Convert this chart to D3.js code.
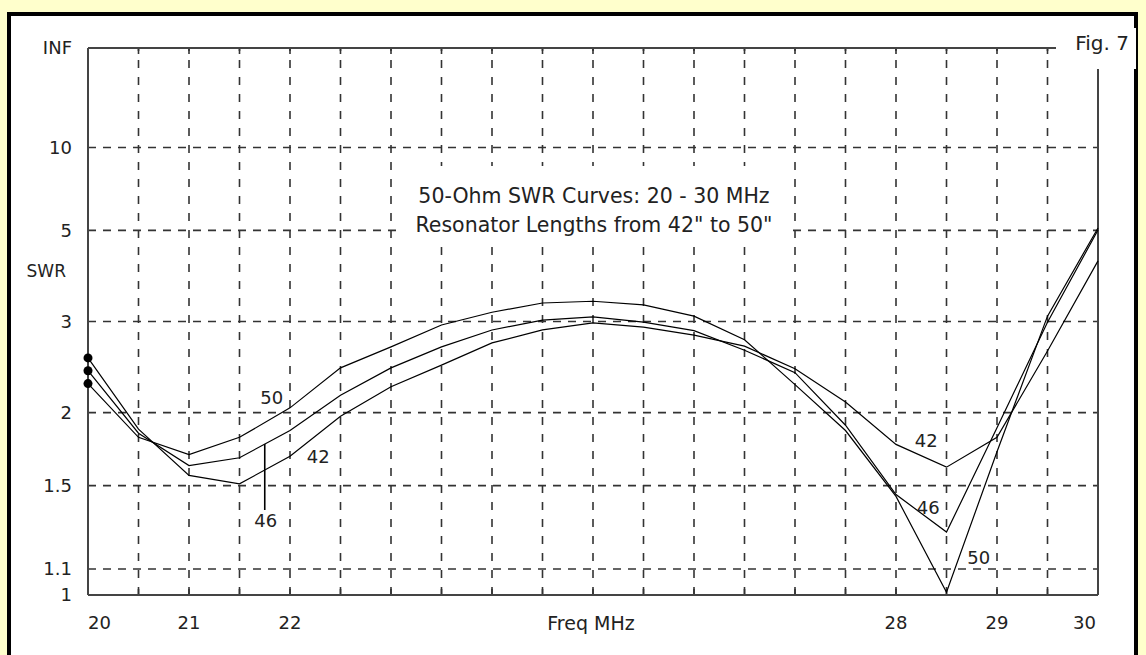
<!DOCTYPE html>
<html>
<head>
<meta charset="utf-8">
<script src="https://cdnjs.cloudflare.com/ajax/libs/d3/7.8.5/d3.min.js"></script>
<style>
body { margin: 0; background: #ffffcc; }
svg { display: block; }
text { font-family: "DejaVu Sans", sans-serif; fill: #222; }
</style>
</head>
<body>
<div id="chart-area"></div>
<script>
// frequency steps (MHz) and SWR
var freqs = [20, 20.5, 21, 21.5, 22, 22.5, 23, 23.5, 24, 24.5, 25,
             25.5, 26, 26.5, 27, 27.5, 28, 28.5, 29, 29.5, 30];
var swr42 = [2.53, 1.87, 1.56, 1.51, 1.68, 1.97, 2.23, 2.45, 2.71, 2.88, 2.98,
             2.92, 2.81, 2.67, 2.41, 2.09, 1.76, 1.61, 1.81, 2.61, 4.14];
var swr46 = [2.39, 1.84, 1.62, 1.67, 1.86, 2.15, 2.42, 2.66, 2.88, 3.02, 3.07,
             2.99, 2.87, 2.62, 2.37, 1.90, 1.45, 1.26, 1.88, 2.99, 5.01];
var swr50 = [2.26, 1.81, 1.69, 1.81, 2.04, 2.42, 2.66, 2.95, 3.14, 3.29, 3.32,
             3.26, 3.08, 2.75, 2.25, 1.86, 1.44, 1.01, 1.71, 3.08, 5.08];

var yTickValues = [1, 1.1, 1.5, 2, 3, 5, 10, Infinity];
var yTickLabels = ["1", "1.1", "1.5", "2", "3", "5", "10", "INF"];
var xTickLabels = [20, 21, 22, 28, 29, 30];

var titleLines = ["50-Ohm SWR Curves: 20 - 30 MHz", "Resonator Lengths from 42\" to 50\""];

// curve labels, in freq / swr units
var curveLabels = [
    {text: "50", f: 21.82, s: 2.13},
    {text: "42", f: 22.28, s: 1.675},
    {text: "46", f: 21.76, s: 1.313},
    {text: "42", f: 28.30, s: 1.79},
    {text: "46", f: 28.32, s: 1.383},
    {text: "50", f: 28.82, s: 1.149}
];
var leader = {f: 21.75, s1: 1.763, s2: 1.368};

var margin = {left: 88, right: 48, top: 48, bottom: 60},
    width = 1010,
    height = 547;

var svg = d3.select("#chart-area").append("svg")
    .attr("width", 1146)
    .attr("height", 655);

svg.append("rect")
    .attr("width", 1146).attr("height", 655)
    .attr("fill", "#ffffcc");

// white panel with thick black frame (bottom edge runs off the picture)
svg.append("rect")
    .attr("x", 9).attr("y", 14)
    .attr("width", 1127).attr("height", 700)
    .attr("fill", "#fff")
    .attr("stroke", "#000")
    .attr("stroke-width", 4);

var g = svg.append("g")
    .attr("transform", "translate(" + margin.left + "," + margin.top + ")");

// scales: SWR is drawn linear in reflection coefficient
var x = d3.scaleLinear().domain([20, 30]).range([0, width]);
var r = d3.scaleLinear().domain([0, 1]).range([height, 0]);
function rho(s) { return s === Infinity ? 1 : (s - 1) / (s + 1); }
function y(s) { return r(rho(s)); }

// grid
var inner = freqs.filter(function (f) { return f > 20 && f < 30; });
g.selectAll("line.vgrid").data(inner).enter().append("line")
    .attr("class", "vgrid")
    .attr("x1", function (d) { return x(d); })
    .attr("x2", function (d) { return x(d); })
    .attr("y1", height).attr("y2", 0)
    .attr("stroke", "#333")
    .attr("stroke-width", 1.6)
    .attr("stroke-dasharray", "8,9");

var hg = yTickValues.filter(function (s) { return s > 1 && s < Infinity; });
g.selectAll("line.hgrid").data(hg).enter().append("line")
    .attr("class", "hgrid")
    .attr("x1", 0).attr("x2", width)
    .attr("y1", function (d) { return y(d); })
    .attr("y2", function (d) { return y(d); })
    .attr("stroke", "#333")
    .attr("stroke-width", 1.6)
    .attr("stroke-dasharray", "8,7");

// small ticks on top and bottom edges
inner.forEach(function (f) {
    g.append("line").attr("x1", x(f)).attr("x2", x(f)).attr("y1", height).attr("y2", height - 6)
        .attr("stroke", "#333").attr("stroke-width", 1.6);
    g.append("line").attr("x1", x(f)).attr("x2", x(f)).attr("y1", 0).attr("y2", 6)
        .attr("stroke", "#333").attr("stroke-width", 1.6);
});

// frame
var frame = g.append("g").attr("stroke", "#444").attr("stroke-width", 2);
frame.append("line").attr("x1", 0).attr("x2", 0).attr("y1", 0).attr("y2", height);
frame.append("line").attr("x1", 0).attr("x2", width).attr("y1", height).attr("y2", height);
frame.append("line").attr("x1", 0).attr("x2", width).attr("y1", 0).attr("y2", 0);
frame.append("line").attr("x1", width).attr("x2", width).attr("y1", 0).attr("y2", height);

// box behind the title
var titleG = g.append("g");
var titleBg = titleG.append("rect").attr("fill", "#fff");
var titleText = titleG.append("text")
    .attr("text-anchor", "middle")
    .style("font-size", "20.5px");
titleLines.forEach(function (t, i) {
    titleText.append("tspan")
        .attr("x", x(25) + 1)
        .attr("y", 155 + i * 29)
        .text(t);
});
var tb = titleText.node().getBBox();
titleBg.attr("x", tb.x - 18).attr("y", tb.y - 18)
    .attr("width", tb.width + 34).attr("height", tb.height + 24);

// Fig. 7 box over the top right corner
g.append("rect")
    .attr("x", width - 42).attr("y", -20)
    .attr("width", 80).attr("height", 41)
    .attr("fill", "#fff");
g.append("text")
    .attr("x", width + 4).attr("y", 2)
    .attr("text-anchor", "middle")
    .style("font-size", "20px")
    .text("Fig. 7");

// y axis labels
g.selectAll("text.ylab").data(yTickValues).enter().append("text")
    .attr("class", "ylab")
    .attr("x", -16)
    .attr("y", function (d) { return y(d); })
    .attr("dy", "0.36em")
    .attr("text-anchor", "end")
    .style("font-size", "18px")
    .text(function (d, i) { return yTickLabels[i]; });

g.append("text")
    .attr("x", -22).attr("y", y(3.9))
    .attr("dy", "0.36em")
    .attr("text-anchor", "end")
    .style("font-size", "17px")
    .text("SWR");

// x axis labels
g.selectAll("text.xlab").data(xTickLabels).enter().append("text")
    .attr("class", "xlab")
    .attr("x", function (d) { return d === 30 ? x(d) - 2 : x(d); })
    .attr("y", height + 28)
    .attr("dy", "0.36em")
    .attr("text-anchor", function (d) { return d === 20 ? "start" : d === 30 ? "end" : "middle"; })
    .style("font-size", "18px")
    .text(function (d) { return d; });

g.append("text")
    .attr("x", x(25) - 2).attr("y", height + 28)
    .attr("dy", "0.36em")
    .attr("text-anchor", "middle")
    .style("font-size", "19px")
    .text("Freq MHz");

// curves
var lineGen = d3.line()
    .x(function (d, i) { return x(freqs[i]); })
    .y(function (d) { return y(d); });

[swr42, swr46, swr50].forEach(function (series) {
    g.append("path")
        .attr("d", lineGen(series))
        .attr("fill", "none")
        .attr("stroke", "#000")
        .attr("stroke-width", 1.2);
    g.append("circle")
        .attr("cx", x(freqs[0]))
        .attr("cy", y(series[0]))
        .attr("r", 4.5)
        .attr("fill", "#000");
});

// labels
g.selectAll("text.clab").data(curveLabels).enter().append("text")
    .attr("class", "clab")
    .attr("x", function (d) { return x(d.f); })
    .attr("y", function (d) { return y(d.s); })
    .attr("dy", "0.36em")
    .attr("text-anchor", "middle")
    .style("font-size", "18px")
    .text(function (d) { return d.text; });

g.append("line")
    .attr("x1", x(leader.f)).attr("x2", x(leader.f))
    .attr("y1", y(leader.s1)).attr("y2", y(leader.s2))
    .attr("stroke", "#000")
    .attr("stroke-width", 1.6);
</script>
</body>
</html>
